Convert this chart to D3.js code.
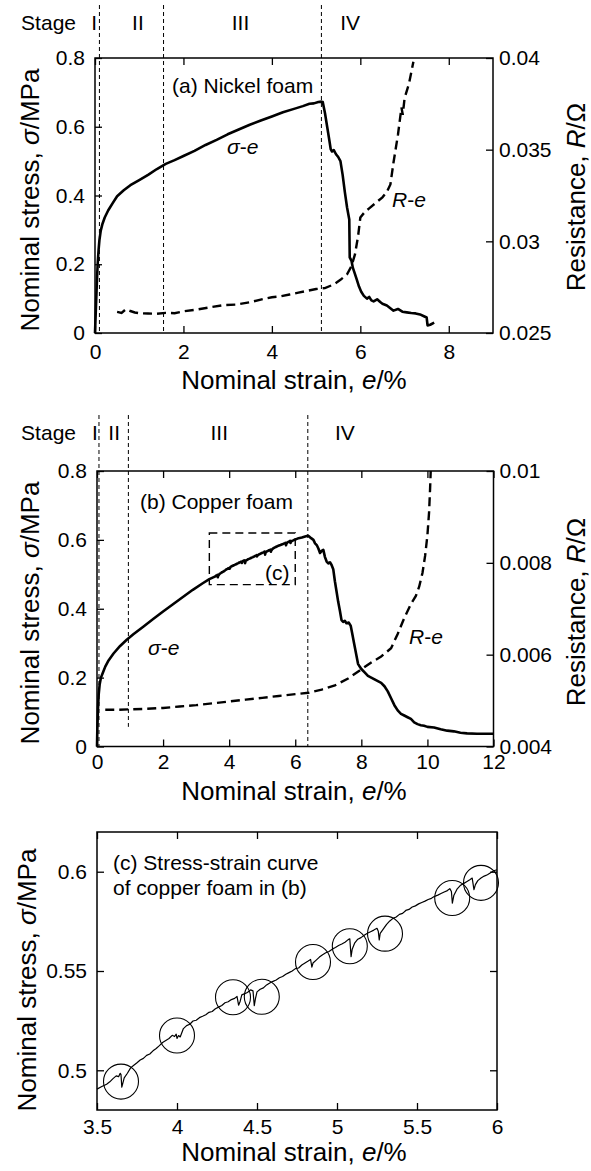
<!DOCTYPE html>
<html>
<head>
<meta charset="utf-8">
<script src="https://cdn.jsdelivr.net/npm/d3@7"></script>
<style>
  body { margin: 0; background: #fff; }
  svg { display: block; }
  text { font-family: "Liberation Sans", Arial, sans-serif; fill: #000; }
</style>
</head>
<body>
<svg id="chart" width="591" height="1171"></svg>
<script>
// ---- Nickel foam (a) ----
const nickelStrain = [0, 0.02, 0.04, 0.06, 0.08, 0.1, 0.13, 0.17, 0.22, 0.3, 0.4, 0.5, 0.65, 0.8, 1.0, 1.2, 1.4, 1.6, 1.8, 2.0,
  2.25, 2.5, 2.75, 3.0, 3.25, 3.5, 3.75, 4.0, 4.25, 4.5, 4.7, 4.85, 4.95, 5.05, 5.12,
  5.15, 5.2, 5.25, 5.3, 5.33, 5.36, 5.4, 5.45, 5.5, 5.55, 5.6, 5.65, 5.7, 5.75, 5.76, 5.8, 5.83, 5.87, 5.92, 5.97,
  6.02, 6.08, 6.15, 6.2, 6.25, 6.3, 6.38, 6.45, 6.5, 6.6, 6.7, 6.75, 6.85, 6.95, 7.05, 7.15, 7.25, 7.35, 7.45, 7.5,
  7.52, 7.58, 7.67];
const nickelStress = [0, 0.07, 0.14, 0.2, 0.24, 0.27, 0.298, 0.318, 0.336, 0.357, 0.378, 0.398, 0.415, 0.43, 0.445, 0.46, 0.477, 0.492, 0.503, 0.515,
  0.53, 0.547, 0.562, 0.578, 0.592, 0.606, 0.618, 0.63, 0.642, 0.652, 0.66, 0.667, 0.668, 0.672, 0.673,
  0.672, 0.64, 0.6, 0.56, 0.535, 0.528, 0.532, 0.52, 0.512, 0.5, 0.46, 0.41, 0.365, 0.33, 0.22, 0.21, 0.19, 0.175, 0.155, 0.135,
  0.12, 0.108, 0.1, 0.105, 0.095, 0.092, 0.098, 0.09, 0.085, 0.08, 0.07, 0.065, 0.07, 0.062, 0.06, 0.058, 0.057, 0.054, 0.048, 0.045,
  0.022, 0.024, 0.03];
const nickelResStrain = [0.5, 0.6, 0.7, 0.8, 0.9, 1.0, 1.2, 1.4, 1.6, 1.8, 2.0, 2.3, 2.6, 2.9, 3.2, 3.5, 3.8, 4.0, 4.2, 4.4,
  4.6, 4.8, 5.0, 5.2, 5.4, 5.55, 5.7, 5.8, 5.88, 5.95, 6.0, 6.1, 6.2, 6.35, 6.5, 6.6, 6.68, 6.75, 6.85, 6.93, 6.96, 7.0, 7.1, 7.2];
const nickelRes = [0.02615, 0.0261, 0.0263, 0.0262, 0.02612, 0.02608, 0.02606, 0.02605, 0.0261, 0.02608, 0.02618, 0.02628, 0.0264, 0.02652, 0.02655, 0.02668, 0.02685, 0.02695, 0.027, 0.0271,
  0.0272, 0.0273, 0.0274, 0.02745, 0.02765, 0.0279, 0.0282, 0.02865, 0.0293, 0.0303, 0.0313, 0.0316, 0.0318, 0.0321, 0.0324, 0.0327, 0.0331, 0.0343, 0.0358, 0.0373, 0.0369, 0.0378, 0.0386, 0.0398];

// ---- Copper foam (b) and close-up (c) ----
const copperStrain = [0, 0.01, 0.03, 0.05, 0.08, 0.12, 0.18, 0.25, 0.35, 0.5, 0.7, 0.9, 1.1, 1.4, 1.7, 2.0, 2.3, 2.6, 2.9, 3.2, 3.4,
  3.5, 3.53, 3.56, 3.58, 3.6, 3.62, 3.635, 3.645, 3.65, 3.655, 3.66, 3.67, 3.69, 3.71, 3.73, 3.75, 3.77, 3.79, 3.81, 3.83,
  3.85, 3.87, 3.89, 3.91, 3.93, 3.95, 3.97, 3.985, 3.995, 4.0, 4.01, 4.02, 4.04, 4.06, 4.08, 4.1, 4.12, 4.14, 4.16, 4.18,
  4.2, 4.22, 4.24, 4.26, 4.28, 4.3, 4.32, 4.34, 4.36, 4.375, 4.385, 4.395, 4.405, 4.42, 4.44, 4.46, 4.475, 4.483, 4.49, 4.5,
  4.52, 4.54, 4.56, 4.58, 4.6, 4.62, 4.64, 4.66, 4.68, 4.7, 4.72, 4.74, 4.76, 4.78, 4.8, 4.82, 4.835, 4.843, 4.85, 4.87,
  4.89, 4.91, 4.93, 4.95, 4.97, 4.99, 5.01, 5.03, 5.05, 5.07, 5.08, 5.088, 5.095, 5.11, 5.13, 5.15, 5.17, 5.19, 5.21, 5.23,
  5.25, 5.258, 5.264, 5.27, 5.29, 5.31, 5.33, 5.35, 5.37, 5.39, 5.41, 5.43, 5.45, 5.47, 5.49, 5.51, 5.53, 5.55, 5.57, 5.59,
  5.61, 5.63, 5.65, 5.67, 5.69, 5.705, 5.715, 5.721, 5.73, 5.75, 5.77, 5.79, 5.81, 5.83, 5.845, 5.856, 5.865, 5.88, 5.9, 5.92,
  5.94, 5.96, 5.98, 6.0, 6.05, 6.1, 6.2, 6.3, 6.38,
  6.42, 6.48, 6.55, 6.6, 6.65, 6.7, 6.75, 6.8, 6.85, 6.9, 6.95, 7.0, 7.05, 7.1, 7.15, 7.2, 7.25, 7.3, 7.35, 7.4,
  7.45, 7.5, 7.55, 7.62, 7.68, 7.72, 7.78, 7.85, 7.9, 7.95, 8.0, 8.1, 8.2, 8.3, 8.4, 8.5, 8.6, 8.7, 8.8, 8.9,
  9.0, 9.1, 9.2, 9.3, 9.4, 9.5, 9.6, 9.7, 9.8, 9.9, 10.0, 10.2, 10.4, 10.6, 10.8, 11.0, 11.2, 11.5, 12.0];
const copperStress = [0, 0.05, 0.11, 0.15, 0.18, 0.2, 0.215, 0.232, 0.25, 0.27, 0.292, 0.31, 0.326, 0.348, 0.37, 0.392, 0.413, 0.434, 0.455, 0.474, 0.486,
  0.4905, 0.4918, 0.493, 0.4942, 0.4958, 0.4972, 0.4968, 0.4985, 0.4978, 0.4915, 0.493, 0.4962, 0.4985, 0.5012, 0.5025, 0.5038, 0.5052, 0.506, 0.5075, 0.5082,
  0.5098, 0.511, 0.5124, 0.514, 0.515, 0.516, 0.5176, 0.517, 0.5182, 0.516, 0.5175, 0.5168, 0.521, 0.5225, 0.5232, 0.5248, 0.5252, 0.5265, 0.5272, 0.528,
  0.5292, 0.5296, 0.531, 0.5318, 0.5326, 0.534, 0.5345, 0.5356, 0.5362, 0.5372, 0.5328, 0.5348, 0.538, 0.5385, 0.5392, 0.5405, 0.54, 0.5325, 0.536, 0.5395,
  0.5408, 0.5415, 0.543, 0.544, 0.5448, 0.5455, 0.5466, 0.5472, 0.5484, 0.5492, 0.55, 0.5512, 0.5515, 0.553, 0.554, 0.555, 0.5558, 0.552, 0.554, 0.5555,
  0.557, 0.5582, 0.5592, 0.5598, 0.561, 0.5618, 0.5628, 0.5636, 0.5645, 0.5658, 0.5662, 0.5572, 0.561, 0.564, 0.566, 0.5668, 0.568, 0.569, 0.5698, 0.5706,
  0.5715, 0.57, 0.5656, 0.569, 0.5712, 0.5735, 0.5752, 0.5765, 0.5772, 0.5785, 0.579, 0.5805, 0.581, 0.5822, 0.5828, 0.5838, 0.5845, 0.5852, 0.586, 0.5866,
  0.5876, 0.5882, 0.589, 0.5898, 0.5905, 0.5915, 0.59, 0.5842, 0.588, 0.5912, 0.593, 0.594, 0.595, 0.596, 0.5968, 0.591, 0.5935, 0.5955, 0.5968, 0.5978,
  0.5985, 0.5995, 0.6005, 0.601, 0.603, 0.605, 0.607, 0.61, 0.612,
  0.61, 0.605, 0.6, 0.59, 0.585, 0.575, 0.562, 0.568, 0.571, 0.55, 0.537, 0.532, 0.535, 0.527, 0.515, 0.48, 0.45, 0.42, 0.395, 0.367,
  0.362, 0.365, 0.358, 0.36, 0.35, 0.33, 0.3, 0.265, 0.24, 0.232, 0.225, 0.215, 0.205, 0.2, 0.195, 0.19, 0.185, 0.175, 0.16, 0.14,
  0.12, 0.105, 0.095, 0.09, 0.085, 0.08, 0.07, 0.065, 0.062, 0.06, 0.057, 0.055, 0.05, 0.046, 0.044, 0.04, 0.038, 0.037, 0.037];
const copperResStrain = [0.25, 0.6, 1.0, 1.5, 2.0, 2.5, 3.0, 3.5, 4.0, 4.5, 5.0, 5.5, 6.0, 6.4, 6.8, 7.2, 7.6, 8.0, 8.3, 8.6,
  8.9, 9.1, 9.3, 9.5, 9.65, 9.75, 9.85, 9.93, 10.0, 10.05, 10.08, 10.1];
const copperRes = [0.0048, 0.0048, 0.00481, 0.00482, 0.00484, 0.00487, 0.0049, 0.00494, 0.00498, 0.00502, 0.00506, 0.0051, 0.00514, 0.00517, 0.00524, 0.00533, 0.00548, 0.00568, 0.00583, 0.00596,
  0.00614, 0.00645, 0.0068, 0.0071, 0.00728, 0.00748, 0.00778, 0.00815, 0.0086, 0.0091, 0.0096, 0.01];

// circled serrations in (c)
const dipStrain = [3.65, 4.0, 4.35, 4.53, 4.85, 5.08, 5.3, 5.72, 5.9];
const dipStress = [0.4943, 0.5175, 0.5368, 0.537, 0.5545, 0.5625, 0.5688, 0.5868, 0.5944];

// dashed box in (b) marking panel (c)
const boxStrain = [3.4, 6.0];
const boxStress = [0.47, 0.62];

// stage boundaries and labels
const stageNames = ['I', 'II', 'III', 'IV'];
const stageLinesA = [0.1, 1.55, 5.12];
const stageLabelA = [-0.02, 0.97, 3.29, 5.77];
const stageLinesB = [0.06, 0.95, 6.38];
const stageLabelB = [-0.06, 0.52, 3.7, 7.5];

// ticks
const strainTicksA = [0, 2, 4, 6, 8];
const stressTicksA = [0, 0.2, 0.4, 0.6, 0.8];
const resTicksA = [0.025, 0.03, 0.035, 0.04];
const strainTicksB = [0, 2, 4, 6, 8, 10, 12];
const stressTicksB = [0, 0.2, 0.4, 0.6, 0.8];
const resTicksB = [0.004, 0.006, 0.008, 0.01];
const strainTicksC = [3.5, 4, 4.5, 5, 5.5, 6];
const stressTicksC = [0.5, 0.55, 0.6];

const svg = d3.select('#chart');
const FS = 21;
const fmt = d3.format('~g');
const zip = (a, b) => a.map((v, i) => [v, b[i]]);

// draws the box, inward ticks and labels of one panel
function drawFrame(p, x, y, y2, xt, yt, y2t) {
  const g = p.g;
  const tk = 7;
  g.append('g').attr('transform', `translate(0,${p.b})`)
    .call(d3.axisBottom(x).tickValues(xt).tickSize(-tk).tickPadding(p.pad).tickFormat(fmt));
  g.append('g').attr('transform', `translate(0,${p.t})`)
    .call(d3.axisTop(x).tickValues(xt).tickSize(-tk).tickFormat(''));
  g.append('g').attr('transform', `translate(${p.l},0)`)
    .call(d3.axisLeft(y).tickValues(yt).tickSize(-tk).tickPadding(10).tickFormat(fmt));
  const right = g.append('g').attr('transform', `translate(${p.r},0)`);
  if (y2) right.call(d3.axisRight(y2).tickValues(y2t).tickSize(-tk).tickPadding(6).tickFormat(fmt));
  else right.call(d3.axisRight(y).tickValues(yt).tickSize(-tk).tickFormat(''));
  g.selectAll('.domain').remove();
  g.selectAll('.tick line').attr('stroke', '#000').attr('stroke-width', 1.3);
  g.selectAll('.tick text').attr('font-size', FS).attr('font-family', '"Liberation Sans", Arial, sans-serif').attr('fill', '#000');
  g.append('rect').attr('x', p.l).attr('y', p.t).attr('width', p.r - p.l).attr('height', p.b - p.t)
    .attr('fill', 'none').attr('stroke', '#000').attr('stroke-width', 1.5);
}

function titleText(g, x, y, rot, parts) {
  const t = g.append('text').attr('font-size', 26).attr('text-anchor', 'middle')
    .attr('transform', `translate(${x},${y}) rotate(${rot})`).attr('dy', '0.35em');
  parts.forEach(([s, it]) => t.append('tspan').text(s).attr('font-style', it ? 'italic' : null));
}

function curveLabel(g, x, y, parts, anchor) {
  const t = g.append('text').attr('font-size', FS).attr('x', x).attr('y', y).attr('text-anchor', anchor || 'start');
  parts.forEach(([s, it]) => t.append('tspan').text(s).attr('font-style', it ? 'italic' : null));
}

function drawStages(g, x, lines, labelPos, top, bottoms, labelY) {
  lines.forEach((v, i) => {
    g.append('line').attr('x1', x(v)).attr('x2', x(v)).attr('y1', top).attr('y2', bottoms[i])
      .attr('stroke', '#000').attr('stroke-width', 1).attr('stroke-dasharray', '4,3');
  });
  g.append('text').attr('font-size', FS).attr('x', 76).attr('y', labelY).attr('text-anchor', 'end').text('Stage');
  stageNames.forEach((s, i) => {
    g.append('text').attr('font-size', FS).attr('x', x(labelPos[i])).attr('y', labelY)
      .attr('text-anchor', 'middle').text(s);
  });
}

const solid = (g, line, pts, w) => g.append('path').datum(pts).attr('d', line)
  .attr('fill', 'none').attr('stroke', '#000').attr('stroke-width', w).attr('stroke-linejoin', 'round');
const dashed = (g, line, pts) => g.append('path').datum(pts).attr('d', line)
  .attr('fill', 'none').attr('stroke', '#000').attr('stroke-width', 2.4).attr('stroke-dasharray', '9,5');

// ---------- panel (a) ----------
{
  const p = { l: 95, r: 493, t: 58, b: 333, pad: 11, g: svg.append('g') };
  const x = d3.scaleLinear().domain([0, 9]).range([p.l, p.r]);
  const y = d3.scaleLinear().domain([0, 0.8]).range([p.b, p.t]);
  const y2 = d3.scaleLinear().domain([0.025, 0.04]).range([p.b, p.t]);
  drawStages(p.g, x, stageLinesA, stageLabelA, 5, [p.b, p.b, p.b], 30);
  drawFrame(p, x, y, y2, strainTicksA, stressTicksA, resTicksA);
  solid(p.g, d3.line().x(d => x(d[0])).y(d => y(d[1])), zip(nickelStrain, nickelStress), 2.6);
  dashed(p.g, d3.line().x(d => x(d[0])).y(d => y2(d[1])), zip(nickelResStrain, nickelRes));
  curveLabel(p.g, 172, 93, [['(a) Nickel foam', false]]);
  curveLabel(p.g, 227, 154, [['σ', true], ['-', false], ['e', true]]);
  curveLabel(p.g, 392, 207, [['R', true], ['-', false], ['e', true]]);
  titleText(p.g, 30, 200, -90, [['Nominal stress, ', false], ['σ', true], ['/MPa', false]]);
  titleText(p.g, 576, 197, -90, [['Resistance, ', false], ['R', true], ['/Ω', false]]);
  titleText(p.g, 294, 380, 0, [['Nominal strain, ', false], ['e', true], ['/%', false]]);
}

// ---------- panel (b) ----------
{
  const p = { l: 97, r: 493.5, t: 471, b: 746.5, pad: 8, g: svg.append('g') };
  const x = d3.scaleLinear().domain([0, 12]).range([p.l, p.r]);
  const y = d3.scaleLinear().domain([0, 0.8]).range([p.b, p.t]);
  const y2 = d3.scaleLinear().domain([0.004, 0.01]).range([p.b, p.t]);
  drawStages(p.g, x, stageLinesB, stageLabelB, 415, [p.b, y(0.057), p.b], 440);
  drawFrame(p, x, y, y2, strainTicksB, stressTicksB, resTicksB);
  p.g.append('rect').attr('x', x(boxStrain[0])).attr('y', y(boxStress[1]))
    .attr('width', x(boxStrain[1]) - x(boxStrain[0])).attr('height', y(boxStress[0]) - y(boxStress[1]))
    .attr('fill', 'none').attr('stroke', '#000').attr('stroke-width', 1.4).attr('stroke-dasharray', '8,5');
  solid(p.g, d3.line().x(d => x(d[0])).y(d => y(d[1])), zip(copperStrain, copperStress), 2.6);
  dashed(p.g, d3.line().x(d => x(d[0])).y(d => y2(d[1])), zip(copperResStrain, copperRes));
  curveLabel(p.g, 140, 509, [['(b) Copper foam', false]]);
  curveLabel(p.g, 265, 580, [['(c)', false]]);
  curveLabel(p.g, 148, 655, [['σ', true], ['-', false], ['e', true]]);
  curveLabel(p.g, 409, 644, [['R', true], ['-', false], ['e', true]]);
  titleText(p.g, 30, 613, -90, [['Nominal stress, ', false], ['σ', true], ['/MPa', false]]);
  titleText(p.g, 576, 612, -90, [['Resistance, ', false], ['R', true], ['/Ω', false]]);
  titleText(p.g, 294, 791, 0, [['Nominal strain, ', false], ['e', true], ['/%', false]]);
}

// ---------- panel (c) ----------
{
  const p = { l: 97, r: 497, t: 832, b: 1110, pad: 9, g: svg.append('g') };
  const x = d3.scaleLinear().domain([3.5, 6]).range([p.l, p.r]);
  const y = d3.scaleLinear().domain([0.48, 0.62]).range([p.b, p.t]);
  drawFrame(p, x, y, null, strainTicksC, stressTicksC, null);
  const pts = zip(copperStrain, copperStress).filter(d => d[0] >= 3.5 && d[0] <= 6);
  solid(p.g, d3.line().x(d => x(d[0])).y(d => y(d[1])), pts, 1.2);
  p.g.selectAll('circle.dip').data(zip(dipStrain, dipStress)).join('circle')
    .attr('class', 'dip').attr('cx', d => x(d[0])).attr('cy', d => y(d[1])).attr('r', 17.5)
    .attr('fill', 'none').attr('stroke', '#000').attr('stroke-width', 1.1);
  curveLabel(p.g, 113, 870, [['(c) Stress-strain curve', false]]);
  curveLabel(p.g, 113, 895, [['of copper foam in (b)', false]]);
  titleText(p.g, 27, 980, -90, [['Nominal stress, ', false], ['σ', true], ['/MPa', false]]);
  titleText(p.g, 294, 1152, 0, [['Nominal strain, ', false], ['e', true], ['/%', false]]);
}
</script>
</body>
</html>
